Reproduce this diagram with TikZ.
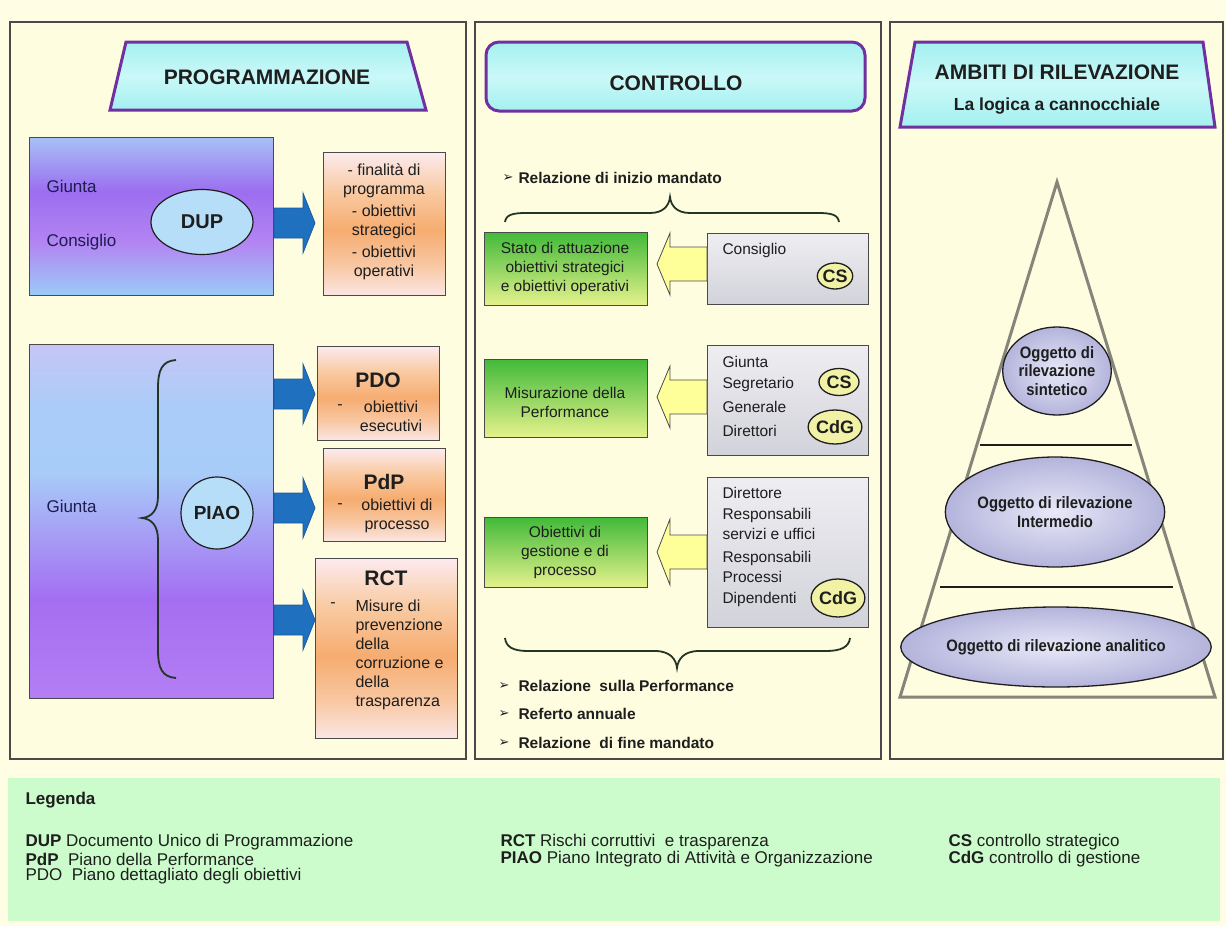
\documentclass[tikz,border=0pt]{standalone}
\usepackage{fontspec}
\setmainfont{Liberation Sans}
\newfontfamily\dejavu{DejaVu Sans}
\newfontfamily\condfont{Liberation Sans}[FakeStretch=0.9]
\usetikzlibrary{shapes.geometric}

\definecolor{bgc}{HTML}{FFFDE4}
\definecolor{panelc}{HTML}{FFFDE0}
\definecolor{framec}{HTML}{4A4A4A}
\definecolor{headc}{HTML}{A4F0F0}
\definecolor{headlite}{HTML}{CBF8F8}
\definecolor{purplec}{HTML}{7030A0}
\definecolor{blueA}{HTML}{2070C0}
\definecolor{blueB}{HTML}{1A5C9E}
\definecolor{yarc}{HTML}{FFFF99}
\definecolor{legc}{HTML}{CCFCCC}
\definecolor{greenA}{HTML}{42BA3A}
\definecolor{greenB}{HTML}{E6F28C}
\definecolor{grayA}{HTML}{EEEEF2}
\definecolor{grayB}{HTML}{D2D2DA}
\definecolor{csc}{HTML}{F2F2A6}
\definecolor{lavA}{HTML}{E8E8F8}
\definecolor{lavB}{HTML}{B4B4DC}
\definecolor{trigc}{HTML}{85857A}
\definecolor{bracec}{HTML}{253525}
\definecolor{navy}{HTML}{1C1C50}
\definecolor{txt}{HTML}{1E1E1E}
\definecolor{dupA}{HTML}{A6C0F6}
\definecolor{dupB}{HTML}{9C6EF0}
\definecolor{dupC}{HTML}{B384F2}
\definecolor{dupD}{HTML}{9ACCF8}
\definecolor{piA}{HTML}{C6C6F6}
\definecolor{piB}{HTML}{AACCF8}
\definecolor{piC}{HTML}{A8CCF8}
\definecolor{piD}{HTML}{A46EF2}
\definecolor{piE}{HTML}{B47EF4}
\definecolor{orA}{HTML}{FCEAEE}
\definecolor{orB}{HTML}{F9CBA4}
\definecolor{orC}{HTML}{F6AC70}
\definecolor{orD}{HTML}{F8C6A0}
\definecolor{orE}{HTML}{FBE6E4}

\pgfdeclareverticalshading{dupshade}{100bp}{color(0bp)=(dupD); color(25bp)=(dupD); color(42bp)=(dupC); color(58bp)=(dupB); color(75bp)=(dupA); color(100bp)=(dupA)}
\pgfdeclareverticalshading{piaoshade}{100bp}{color(0bp)=(piE); color(25bp)=(piE); color(39bp)=(piD); color(57bp)=(piC); color(66bp)=(piB); color(75bp)=(piA); color(100bp)=(piA)}
\pgfdeclareverticalshading{orshade}{100bp}{color(0bp)=(orE); color(25bp)=(orE); color(36bp)=(orD); color(48bp)=(orC); color(62bp)=(orB); color(75bp)=(orA); color(100bp)=(orA)}

\begin{document}
\begin{tikzpicture}[x=1pt,y=-1pt,
  frame/.style={draw=framec,line width=1.6pt,fill=panelc},
  header/.style={draw=purplec,line width=3pt,top color=headc,bottom color=headc,middle color=headlite},
  htext/.style={font=\fontsize{21}{25}\selectfont\bfseries,text=txt},
  bigbox/.style={draw=framec,line width=1.3pt,anchor=north west,inner sep=0pt},
  orbox/.style={draw=framec,line width=1.3pt,anchor=north west,inner sep=0pt,shading=orshade},
  grbox/.style={draw=framec,line width=1.2pt,anchor=north west,inner sep=0pt,top color=greenA,bottom color=greenB,shading angle=0},
  gybox/.style={draw=framec,line width=1.2pt,anchor=north west,inner sep=0pt,top color=grayA,bottom color=grayB},
  bluearrow/.style={fill=blueA,draw=blueB,line width=0.8pt},
  yarrow/.style={fill=yarc,draw=framec,line width=0.8pt},
  lbl/.style={font=\fontsize{17}{20}\selectfont,text=navy,anchor=west},
  otext/.style={font=\fontsize{16}{19}\selectfont,text=txt,align=center},
  abbr/.style={font=\fontsize{21}{24}\selectfont\bfseries,text=txt},
  gtext/.style={font=\fontsize{15.5}{19}\selectfont,text=txt,align=center},
  ptext/.style={font=\fontsize{15.5}{19}\selectfont,text=txt,anchor=west},
  badge/.style={ellipse,draw=txt,line width=1.3pt,fill=csc,inner sep=0pt,font=\fontsize{18}{20}\selectfont\bfseries,text=txt},
  bull/.style={font=\dejavu\fontsize{13}{15}\selectfont,text=txt},
  btext/.style={font=\fontsize{15.5}{18}\selectfont\bfseries,text=txt,anchor=west},
  brace/.style={draw=bracec,line width=1.8pt},
  oval/.style={ellipse,draw=txt,line width=1.3pt,inner color=lavA,outer color=lavB,inner sep=0pt,align=center,font=\condfont\bfseries\fontsize{16.5}{18.5}\selectfont,text=txt},
  legt/.style={font=\fontsize{17}{19}\selectfont,text=txt,anchor=west}
]
% background
\fill[bgc] (0,0) rectangle (1226,926);
\useasboundingbox (0,0) rectangle (1226,926);

% panels
\draw[frame] (10,22) rectangle (466,759);
\draw[frame] (475,22) rectangle (881,759);
\draw[frame] (890,22) rectangle (1223,759);

% legend
\fill[legc] (8,778) rectangle (1220,921);

%================ PANEL 1 ==================
\draw[header] (126,42) -- (407,42) -- (426,110) -- (110,110) -- cycle;
\node[htext] (hprog) at (267,77) {PROGRAMMAZIONE};

% DUP
\node[bigbox,shading=dupshade,minimum width=244,minimum height=158] (dupbox) at (29,137) {};
\node[lbl] (g1) at (43,186) {Giunta};
\node[lbl] (c1) at (43,242) {Consiglio};
\node[ellipse,draw=txt,line width=1.2pt,fill=headlite!40!piB,minimum width=102,minimum height=65,inner sep=0pt,
      font=\fontsize{20}{22}\selectfont\bfseries,text=txt] (dup) at (202,222) {DUP};
\node[orbox,minimum width=122,minimum height=143] (obox) at (323,152) {};
\node[otext] at (384,222) {- finalità di\\programma\\[3pt]- obiettivi\\strategici\\[3pt]- obiettivi\\operativi};
\fill[bluearrow] (274,208) -- (303,208) -- (303,193) -- (315,223) -- (303,253) -- (303,238) -- (274,238) -- cycle;

% PIAO
\node[bigbox,shading=piaoshade,minimum width=244,minimum height=354] (piaobox) at (29,344) {};
\node[lbl] (g2) at (43,506) {Giunta};
\draw[brace] (176,360) .. controls (162,361) and (158,370) .. (158,388) -- (158,496)
   .. controls (158,510) and (152,517) .. (142,518) .. controls (152,519) and (158,526) .. (158,540)
   -- (158,650) .. controls (158,668) and (162,677) .. (176,678);
\node[circle,draw=txt,line width=1.2pt,fill=headlite!40!piB,minimum size=72,inner sep=0pt,
      font=\fontsize{19}{21}\selectfont\bfseries,text=txt] (piao) at (217,513) {PIAO};

% PDO
\node[orbox,minimum width=122,minimum height=94] (pdobox) at (317,346) {};
\node[abbr] at (378,380) {PDO};
\node[otext] at (340,407) {-};
\node[otext] at (391,416) {obiettivi\\esecutivi};
% PdP
\node[orbox,minimum width=122,minimum height=93] (pdpbox) at (323,448) {};
\node[abbr] at (384,482) {PdP};
\node[otext] at (340,506) {-};
\node[otext] at (397,516) {obiettivi di\\processo};
% RCT
\node[orbox,minimum width=142,minimum height=180] (rctbox) at (315,558) {};
\node[abbr] at (386,578) {RCT};
\node[otext] at (333,605) {-};
\node[otext,align=left,anchor=north west] at (352,596) {Misure di\\prevenzione\\della\\corruzione e\\della\\trasparenza};

\fill[bluearrow] (274,379) -- (303,379) -- (303,364) -- (315,394) -- (303,424) -- (303,409) -- (274,409) -- cycle;
\fill[bluearrow] (274,493) -- (303,493) -- (303,478) -- (315,508) -- (303,538) -- (303,523) -- (274,523) -- cycle;
\fill[bluearrow] (274,605) -- (303,605) -- (303,590) -- (315,620) -- (303,650) -- (303,635) -- (274,635) -- cycle;

%================ PANEL 2 ==================
\draw[header,rounded corners=13pt] (486,42) rectangle (865,111);
\node[htext] (hctrl) at (676,83) {CONTROLLO};

\node[bull] at (508,178) {➢};
\node[btext] at (515,178) {Relazione di inizio mandato};
\draw[brace] (505,222) .. controls (506,215) and (512,213) .. (526,213) -- (650,213)
   .. controls (663,213) and (669,206) .. (670,197) .. controls (671,206) and (677,213) .. (690,213)
   -- (818,213) .. controls (832,213) and (838,215) .. (839,222);

% row 1
\node[grbox,minimum width=163,minimum height=73] (gr1) at (484,232) {};
\node[gtext] at (565,268) {Stato di attuazione\\obiettivi strategici\\e obiettivi operativi};
\node[gybox,minimum width=161,minimum height=71] (gy1) at (707,233) {};
\node[ptext] at (719,250) {Consiglio};
\node[badge,minimum width=33,minimum height=26] at (835,276) {CS};
\draw[yarrow] (707,247) -- (670,247) -- (670,233) -- (657,264) -- (670,295) -- (670,281) -- (707,281) -- cycle;

% row 2
\node[grbox,minimum width=163,minimum height=78] (gr2) at (484,359) {};
\node[gtext] at (565,402) {Misurazione della\\Performance};
\node[gybox,minimum width=161,minimum height=110] (gy2) at (707,345) {};
\node[ptext] at (719,362) {Giunta};
\node[ptext] at (719,384) {Segretario};
\node[ptext] at (719,407) {Generale};
\node[ptext] at (719,431) {Direttori};
\node[badge,minimum width=40,minimum height=27] at (839,382) {CS};
\node[badge,minimum width=48,minimum height=34] at (835,427) {CdG};
\draw[yarrow] (707,380) -- (670,380) -- (670,366) -- (657,397) -- (670,428) -- (670,414) -- (707,414) -- cycle;

% row 3
\node[grbox,minimum width=163,minimum height=70] (gr3) at (484,517) {};
\node[gtext] at (565,552) {Obiettivi di\\gestione e di\\processo};
\node[gybox,minimum width=161,minimum height=150] (gy3) at (707,477) {};
\node[ptext] at (719,493) {Direttore};
\node[ptext] at (719,515) {Responsabili};
\node[ptext] at (719,534) {servizi e uffici};
\node[ptext] at (719,558) {Responsabili};
\node[ptext] at (719,577) {Processi};
\node[ptext] at (719,599) {Dipendenti};
\node[badge,minimum width=50,minimum height=38] at (838,598) {CdG};
\draw[yarrow] (707,535) -- (670,535) -- (670,519) -- (657,552) -- (670,585) -- (670,569) -- (707,569) -- cycle;

% bottom brace
\draw[brace] (505,638) .. controls (506,647) and (513,651) .. (528,651) -- (655,651)
   .. controls (670,651) and (676,659) .. (677,668) .. controls (678,659) and (684,651) .. (699,651)
   -- (826,651) .. controls (841,651) and (849,647) .. (850,638);

\node[bull] at (504,686) {➢};
\node[btext] at (515,686) {Relazione\ \ sulla Performance};
\node[bull] at (504,714) {➢};
\node[btext] at (515,714) {Referto annuale};
\node[bull] at (504,743) {➢};
\node[btext] at (515,743) {Relazione\ \ di fine mandato};

%================ PANEL 3 ==================
\draw[header] (915,42) -- (1203,42) -- (1215,127) -- (900,127) -- cycle;
\node[htext] (hamb) at (1057,72) {AMBITI DI RILEVAZIONE};
\node[font=\fontsize{17.5}{20}\selectfont\bfseries,text=txt] (hlog) at (1057,106) {La logica a cannocchiale};

\draw[draw=trigc,line width=3pt,line join=miter] (1057,182) -- (1215,697) -- (900,697) -- cycle;
\draw[draw=txt,line width=1.2pt] (980,445) -- (1132,445);
\draw[draw=txt,line width=1.2pt] (940,587) -- (1173,587);

\node[oval,minimum width=92,minimum height=88] (o1) at (1057,371) {Oggetto di\\rilevazione\\sintetico};
\node[oval,minimum width=176,minimum height=110] (o2) at (1055,512) {Oggetto di rilevazione\\Intermedio};
\node[oval,minimum width=255,minimum height=80] (o3) at (1056,647) {Oggetto di rilevazione analitico};

%================ LEGEND ==================
\node[legt,font=\fontsize{17}{19}\selectfont\bfseries] at (22,800) {Legenda};
\node[legt] at (22,842) {\textbf{DUP} Documento Unico di Programmazione};
\node[legt] at (22,859) {\textbf{PdP}\ \ Piano della Performance};
\node[legt] at (22,876) {PDO\ \ Piano dettagliato degli obiettivi};
\node[legt] at (497,842) {\textbf{RCT} Rischi corruttivi\ \ e trasparenza};
\node[legt] at (497,859) {\textbf{PIAO} Piano Integrato di Attività e Organizzazione};
\node[legt] at (945,842) {\textbf{CS} controllo strategico};
\node[legt] at (945,859) {\textbf{CdG} controllo di gestione};
\end{tikzpicture}
\end{document}
